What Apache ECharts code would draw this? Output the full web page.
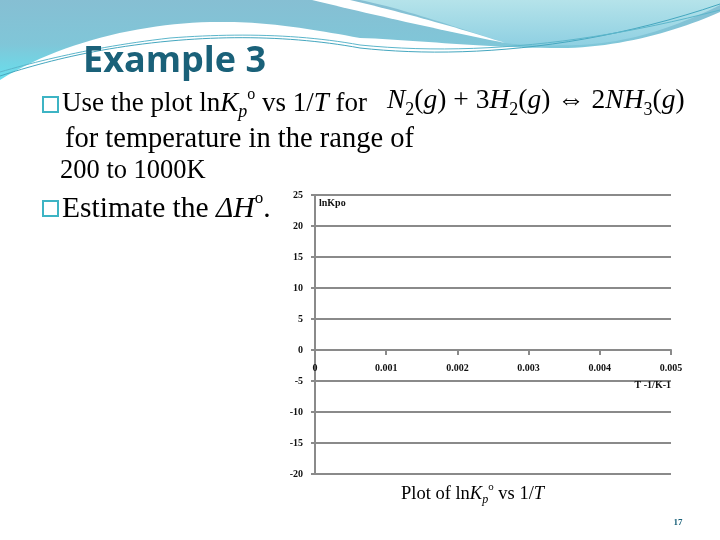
<!DOCTYPE html>
<html><head><meta charset="utf-8">
<script src="https://cdn.jsdelivr.net/npm/echarts@6/dist/echarts.min.js"></script>
<style>html,body{margin:0;padding:0;background:#fff}#c{width:720px;height:540px}</style>
</head><body><div id="c"></div>
<script>
// Data (the reference plot is an empty axes frame: no points drawn)
const inverseT = [];
const lnKp = [];
const xTickLabels = ['0', '0.001', '0.002', '0.003', '0.004', '0.005'];
const yTickLabels = ['-20', '-15', '-10', '-5', '0', '5', '10', '15', '20', '25'];

const SERIF = '"Liberation Serif","DejaVu Serif",serif';
function richFor(fs) {
  const lh = Math.round(fs * 1.3), ss = Math.round(fs * 0.65), os = Math.round(fs * 0.58);
  return {
    a: {fontFamily: SERIF, fontSize: fs, lineHeight: lh, color: '#111'},
    i: {fontFamily: SERIF, fontSize: fs, lineHeight: lh, fontStyle: 'italic', color: '#111'},
    s: {fontFamily: SERIF, fontSize: ss, lineHeight: ss + 1, verticalAlign: 'bottom', color: '#111'},
    si: {fontFamily: SERIF, fontSize: ss, lineHeight: ss + 1, verticalAlign: 'bottom', fontStyle: 'italic', color: '#111'},
    o: {fontFamily: SERIF, fontSize: os, lineHeight: os + 5, verticalAlign: 'top', color: '#111'}
  };
}

// decorative background: cubic-bezier outlines sampled into polygons
function shapePts(start, segs) {
  const pts = [start.slice()];
  let p = start;
  segs.forEach(s => {
    if (s.length === 2) { pts.push(s.slice()); p = s; return; }
    const [c1x, c1y, c2x, c2y, ex, ey] = s;
    for (let k = 1; k <= 24; k++) {
      const t = k / 24, u = 1 - t;
      pts.push([u*u*u*p[0] + 3*u*u*t*c1x + 3*u*t*t*c2x + t*t*t*ex,
                u*u*u*p[1] + 3*u*u*t*c1y + 3*u*t*t*c2y + t*t*t*ey]);
    }
    p = [ex, ey];
  });
  return pts;
}
const lg = (stops) => ({type: 'linear', x: 0, y: 0, x2: 0, y2: 1, colorStops: stops});

const chart = echarts.init(document.getElementById('c'));
chart.setOption({
  animation: false,
  backgroundColor: '#ffffff',
  grid: {left: 315, right: 49, top: 195, bottom: 66, containLabel: false},
  xAxis: {
    type: 'value', min: 0, max: 0.005, interval: 0.001,
    position: 'bottom', offset: -124,
    name: 'T -1/K-1', nameLocation: 'end', nameGap: 0,
    nameTextStyle: {fontFamily: SERIF, fontSize: 10, fontWeight: 'bold', color: '#111', align: 'right', verticalAlign: 'top', padding: [30, 0, 0, 0]},
    axisLine: {onZero: false, lineStyle: {color: '#8a8a8a', width: 2}},
    axisTick: {show: true, length: 5, lineStyle: {color: '#8a8a8a', width: 2}},
    axisLabel: {margin: 13, fontFamily: SERIF, fontSize: 10, fontWeight: 'bold', color: '#111',
      formatter: v => xTickLabels[Math.round(v / 0.001)]},
    splitLine: {show: false}
  },
  yAxis: {
    type: 'value', min: -20, max: 25, interval: 5,
    name: 'lnKpo', nameLocation: 'end', nameGap: -8,
    nameTextStyle: {fontFamily: SERIF, fontSize: 10, fontWeight: 'bold', color: '#111', align: 'left', verticalAlign: 'middle', padding: [0, 0, 0, 4]},
    axisLine: {show: true, onZero: false, lineStyle: {color: '#8a8a8a', width: 2}},
    axisTick: {show: true, length: 4, lineStyle: {color: '#8a8a8a', width: 2}},
    axisLabel: {margin: 12, fontFamily: SERIF, fontSize: 10, fontWeight: 'bold', color: '#111',
      formatter: v => yTickLabels[Math.round((v + 20) / 5)]},
    splitLine: {show: true, lineStyle: {color: '#8a8a8a', width: 2}}
  },
  series: [{type: 'scatter', data: inverseT.map((x, k) => [x, lnKp[k]]), symbolSize: 6}],
  graphic: [
    {type: 'polygon', z: -10, shape: {points: shapePts([0, 0], [[720, 0], [720, 12], [680, 30, 620, 48, 560, 48], [480, 48, 420, 40, 360, 38], [300, 27, 260, 21, 210, 22], [140, 24, 60, 42, 0, 80]])},
      style: {fill: lg([{offset: 0, color: '#86bfd3'}, {offset: 0.55, color: '#80c6d8'}, {offset: 1, color: '#66e0ee'}])}},
    {type: 'polygon', z: -9, shape: {points: shapePts([360, 0], [[720, 0], [720, 5], [690, 20, 640, 42, 580, 45], [545, 46, 520, 45, 505, 43], [450, 25, 400, 8, 360, 0]])},
      style: {fill: lg([{offset: 0, color: '#b5e3ea'}, {offset: 1, color: '#8fd0e2'}])}},
    {type: 'polygon', z: -8, shape: {points: shapePts([312, 0], [[350, 0], [410, 14, 465, 30, 505, 43], [440, 30, 370, 14, 312, 0]])},
      style: {fill: '#ffffff'}},
    {type: 'polyline', z: -7, shape: {points: shapePts([0, 76], [[40, 63, 95, 48, 170, 41], [235, 35, 300, 37, 360, 48], [450, 58, 580, 52, 720, 4]])},
      style: {fill: null, stroke: '#45a7bf', lineWidth: 1}},
    {type: 'polyline', z: -7, shape: {points: shapePts([0, 72], [[45, 59, 100, 46, 170, 38], [235, 33, 300, 34, 360, 45], [470, 56, 590, 44, 720, 10]])},
      style: {fill: null, stroke: '#5cb6cb', lineWidth: 1}},
    {type: 'text', x: 83, y: 62, style: {text: 'Example 3', font: 'bold 36px "Open Sans", Lato, sans-serif', fill: '#1a6179', verticalAlign: 'middle'}},
    {type: 'rect', shape: {x: 43, y: 97, width: 15, height: 15}, style: {fill: null, stroke: '#3db4c4', lineWidth: 2}},
    {type: 'text', x: 62, y: 104, style: {text: '{a|Use the plot ln}{i|K}{si|p}{o|o}{a| vs 1/}{i|T}{a| for}', rich: richFor(27), verticalAlign: 'middle'}},
    {type: 'text', x: 387, y: 101, style: {text: '{i|N}{s|2}{a|(}{i|g}{a|) + 3}{i|H}{s|2}{a|(}{i|g}{a|) ⇔ 2}{i|NH}{s|3}{a|(}{i|g}{a|)}', rich: richFor(27.5), verticalAlign: 'middle'}},
    {type: 'text', x: 65, y: 140, style: {text: '{a|for temperature in the range of}', rich: richFor(28.5), verticalAlign: 'middle'}},
    {type: 'text', x: 60, y: 171, style: {text: '{a|200 to 1000K}', rich: richFor(26.5), verticalAlign: 'middle'}},
    {type: 'rect', shape: {x: 43, y: 201, width: 15, height: 15}, style: {fill: null, stroke: '#3db4c4', lineWidth: 2}},
    {type: 'text', x: 62, y: 209, style: {text: '{a|Estimate the }{i|ΔH}{o|o}{a|.}', rich: richFor(29.5), verticalAlign: 'middle'}},
    {type: 'text', x: 401, y: 494, style: {text: '{a|Plot of ln}{i|K}{si|p}{o|o}{a| vs 1/}{i|T}', rich: richFor(18.5), verticalAlign: 'middle'}},
    {type: 'text', x: 678, y: 523, style: {text: '17', font: 'bold 9px "Liberation Serif", serif', fill: '#1a6179', align: 'center', verticalAlign: 'middle'}}
  ]
});
</script>
</body></html>
